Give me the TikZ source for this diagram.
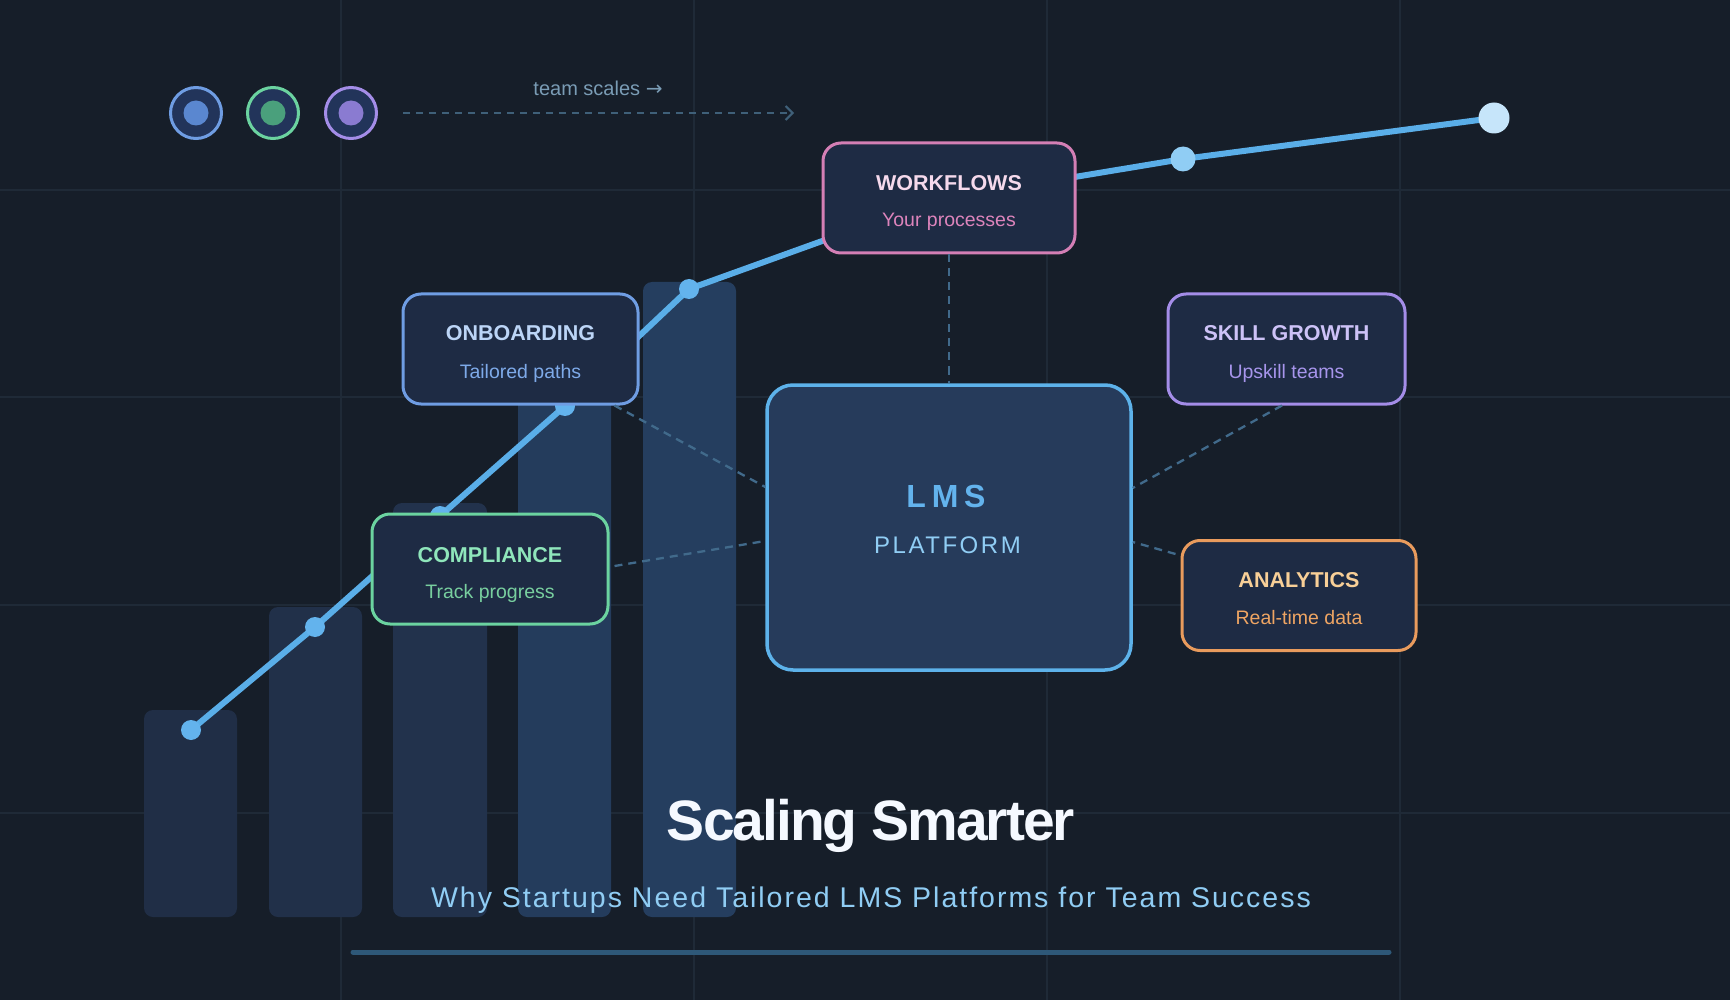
\documentclass[tikz,border=0pt]{standalone}
\usepackage{fontspec}
\setmainfont{Liberation Sans}
\newfontfamily\arrowfont{DejaVu Sans}
\usetikzlibrary{arrows.meta,calc}
\definecolor{bg}{HTML}{161E29}
\definecolor{gridc}{HTML}{1F2A37}
\definecolor{barA}{HTML}{202E46}
\definecolor{barB}{HTML}{213049}
\definecolor{barC}{HTML}{22324C}
\definecolor{barD}{HTML}{243C5C}
\definecolor{barE}{HTML}{253E5F}
\definecolor{linec}{HTML}{5AAEE8}
\definecolor{dotc}{HTML}{63B3ED}
\definecolor{dotmid}{HTML}{90CDF4}
\definecolor{dotend}{HTML}{C6E5FA}
\definecolor{dashc}{HTML}{416A8B}
\definecolor{cardfill}{HTML}{1E2B44}
\definecolor{lmsfill}{HTML}{263B5B}
\definecolor{lmsborder}{HTML}{5DB2EA}
\definecolor{pinkB}{HTML}{D47FB5}\definecolor{pinkT}{HTML}{F5D9EC}\definecolor{pinkS}{HTML}{DD84BC}
\definecolor{blueB}{HTML}{6F9DE3}\definecolor{blueT}{HTML}{BCD5F7}\definecolor{blueS}{HTML}{7EAAE9}
\definecolor{greenB}{HTML}{6BD3A0}\definecolor{greenT}{HTML}{8FE6BB}\definecolor{greenS}{HTML}{78CF9F}
\definecolor{purpB}{HTML}{A48DE8}\definecolor{purpT}{HTML}{CDC2F7}\definecolor{purpS}{HTML}{A795EC}
\definecolor{orB}{HTML}{E99B5D}\definecolor{orT}{HTML}{F8CF97}\definecolor{orS}{HTML}{EFA563}
\definecolor{dotfill}{HTML}{22345A}
\definecolor{inBlue}{HTML}{5A87D0}
\definecolor{inGreen}{HTML}{4AA07C}
\definecolor{inPurp}{HTML}{8A7BD1}
\definecolor{teamc}{HTML}{7A9CB5}
\definecolor{arrowc}{HTML}{3F6079}
\definecolor{titlec}{HTML}{F5F9FF}
\definecolor{subc}{HTML}{90CDF4}
\definecolor{rulec}{HTML}{2E5878}
\tikzset{
  card/.style={draw, line width=3pt, rounded corners=18pt, fill=cardfill, minimum width=#1, minimum height=110pt, inner sep=0pt},
  ttl/.style={font=\bfseries\fontsize{21.5}{24}\selectfont, anchor=base, inner sep=0pt},
  subt/.style={font=\fontsize{19.5}{22}\selectfont, anchor=base, inner sep=0pt},
  conn/.style={draw=dashc, line width=2.3pt, dash pattern=on 8pt off 6pt},
  ptdot/.style={circle, fill=dotc, inner sep=0pt, minimum size=20pt},
  topdot/.style={circle, draw=#1, line width=3pt, fill=dotfill, minimum size=51pt, inner sep=0pt},
  innerdot/.style={circle, fill=#1, minimum size=25pt, inner sep=0pt}
}
\begin{document}
\begin{tikzpicture}[x=1pt,y=-1pt]
\useasboundingbox (0,0) rectangle (1730,1000);
\fill[bg] (0,0) rectangle (1730,1000);
% grid
\foreach \gx in {341,694,1047,1400} \draw[gridc, line width=1.5pt] (\gx,0) -- (\gx,1000);
\foreach \gy in {190,397,605,813} \draw[gridc, line width=1.5pt] (0,\gy) -- (1730,\gy);
% bars
\fill[barA, rounded corners=9pt] (144,710) rectangle (237,917);
\fill[barB, rounded corners=9pt] (269,607) rectangle (362,917);
\fill[barC, rounded corners=9pt] (393,503) rectangle (487,917);
\fill[barD, rounded corners=9pt] (518,392) rectangle (611,917);
\fill[barE, rounded corners=9pt] (643,282) rectangle (736,917);
% growth line
\coordinate (p1) at (191,730);
\coordinate (p2) at (315,627);
\coordinate (p3) at (440,516);
\coordinate (p4) at (565,406);
\coordinate (p5) at (689,289);
\coordinate (p6) at (936,200);
\coordinate (p7) at (1183,159);
\coordinate (p8) at (1494,118);
\draw[linec, line width=6pt, line join=round, line cap=round] (p1) -- (p2) -- (p3) -- (p4) -- (p5) -- (p6) -- (p7) -- (p8);
\node[ptdot] (q1) at (p1) {};
\node[ptdot] (q2) at (p2) {};
\node[ptdot] (q3) at (p3) {};
\node[ptdot] (q4) at (p4) {};
\node[ptdot] (q5) at (p5) {};
\node[ptdot, fill=dotmid, minimum size=25pt] (q7) at (p7) {};
\node[ptdot, fill=dotend, minimum size=31pt] (q8) at (p8) {};
% top-left dots
\node[topdot=blueB] (d1) at (196,113) {};
\node[innerdot=inBlue] (e1) at (196,113) {};
\node[topdot=greenB] (d2) at (273,113) {};
\node[innerdot=inGreen] (e2) at (273,113) {};
\node[topdot=purpB] (d3) at (351,113) {};
\node[innerdot=inPurp] (e3) at (351,113) {};
\coordinate (ta) at (403,113);
\coordinate (tb) at (794,113);
\draw[arrowc, line width=2pt, dash pattern=on 7pt off 6pt, -{Straight Barb[length=7pt,width=14pt,line width=2pt]}] (ta) -- (tb);
\node[anchor=base, inner sep=0pt, text=teamc, font=\fontsize{20}{22}\selectfont] (team) at (598,96) {team scales {\arrowfont →}};
% cards
\node[card=252pt, draw=pinkB] (wf) at (949,198) {};
\node[card=235pt, draw=blueB] (onb) at (520.5,349) {};
\node[card=236pt, draw=greenB] (cmp) at (490,569) {};
\node[card=237pt, draw=purpB] (skl) at (1286.5,349) {};
\node[card=234pt, draw=orB] (ana) at (1299,595.5) {};
% LMS
\node[draw=lmsborder, fill=lmsfill, line width=3.5pt, rounded corners=26pt, minimum width=364pt, minimum height=285pt, inner sep=0pt] (lms) at (949,527.5) {};
% dashed connectors
\draw[conn] (wf.south) -- (lms.north);
\draw[conn] ($(onb.south east)+(-25,0)$) -- ($(lms.west)+(0,-40.5)$);
\draw[conn] ($(cmp.east)+(5,-3)$) -- ($(lms.west)+(0,13.5)$);
\draw[conn] ($(skl.south)+(-4.5,0)$) -- ($(lms.east)+(0,-39.5)$);
\draw[conn] ($(ana.west)+(-5,-41.5)$) -- ($(lms.east)+(0,14.5)$);
% card texts
\node[ttl, text=pinkT] (wft) at (949,191) {WORKFLOWS};
\node[subt, text=pinkS] (wfs) at (949,227) {Your processes};
\node[ttl, text=blueT] (onbt) at (520.5,341) {ONBOARDING};
\node[subt, text=blueS] (onbs) at (520.5,378) {Tailored paths};
\node[ttl, text=greenT] (cmpt) at (490,562) {COMPLIANCE};
\node[subt, text=greenS] (cmps) at (490,598) {Track progress};
\node[ttl, text=purpT] (sklt) at (1286.5,341) {SKILL GROWTH};
\node[subt, text=purpS] (skls) at (1286.5,378) {Upskill teams};
\node[ttl, text=orT] (anat) at (1299,587) {ANALYTICS};
\node[subt, text=orS] (anas) at (1299,624) {Real-time data};
% LMS texts
\node[anchor=base, inner sep=0pt, text=dotc, font=\bfseries\fontsize{32}{36}\selectfont\addfontfeature{LetterSpace=18}] (lmst) at (946,507) {LMS};
\node[anchor=base, inner sep=0pt, text=dotmid, font=\fontsize{24}{28}\selectfont\addfontfeature{LetterSpace=10.5}] (lmss) at (947.5,553) {PLATFORM};
% titles
\node[anchor=base, inner sep=0pt, text=titlec, font=\bfseries\fontsize{57}{62}\selectfont\addfontfeature{LetterSpace=-3.5}] (title) at (871,840) {Scaling Smarter};
\node[anchor=base, inner sep=0pt, text=subc, font=\fontsize{28.5}{32}\selectfont\addfontfeature{LetterSpace=7}] (subtitle) at (871,907) {Why Startups Need Tailored LMS Platforms for Team Success};
\coordinate (ra) at (353,952);
\coordinate (rb) at (1389,952);
\draw[rulec, line width=5pt, line cap=round] (ra) -- (rb);
\end{tikzpicture}
\end{document}
